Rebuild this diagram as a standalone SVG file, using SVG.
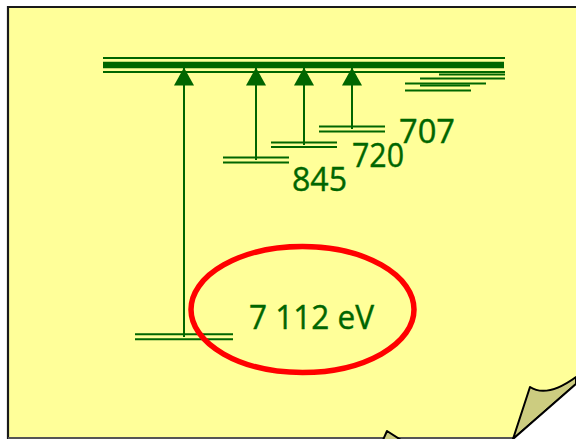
<svg xmlns="http://www.w3.org/2000/svg" width="576" height="439" viewBox="0 0 576 439">
<style>
.lv{stroke:#006600;stroke-width:2;fill:none}
.lbl{font-family:"Comic Sans MS","Open Sans","DejaVu Sans",sans-serif;font-size:32px;fill:#006600;stroke:#006600;stroke-width:0.4}
.arr{stroke:#006600;stroke-width:2;fill:none;marker-end:url(#ah)}
.curl{fill:#cccc80;stroke:#000;stroke-width:2;stroke-linejoin:round}
</style>
<defs>
<marker id="ah" markerUnits="userSpaceOnUse" markerWidth="20" markerHeight="20" refX="18" refY="10" orient="auto" viewBox="0 0 18 20">
<path d="M0,0 L18,10 L0,20 Z" fill="#006600"/>
</marker>
</defs>
<rect width="576" height="439" fill="#ffffff"/>
<g id="paper">
<path d="M8,7 H576 V377 L576,384 L513,439 H8 Z" fill="#ffff99"/>
<path d="M8,439 V7 H576" fill="none" stroke="#1a1a1a" stroke-width="2.2"/>
<path d="M8,438 H513" fill="none" stroke="#555" stroke-width="2"/>
<path class="curl" d="M530,387 Q547,398 576,377 L576,384 L513,439 Z"/>
<path d="M576,384 L513,439 L576,439 Z" fill="#ffffff"/>
<path d="M576,384 L513,439" stroke="#000" stroke-width="2" fill="none"/>
<path class="curl" d="M383,440 L387,431 L401,440 Z"/>
</g>
<g id="continuum">
<line class="lv" x1="103" y1="58" x2="505" y2="58"/>
<line x1="103" y1="65" x2="504" y2="65" stroke="#006600" stroke-width="6.5"/>
<line class="lv" x1="103" y1="72" x2="505" y2="72"/>
<line class="lv" x1="439" y1="74.5" x2="505" y2="74.5"/>
<line class="lv" x1="420" y1="78.5" x2="505" y2="78.5"/>
<line class="lv" x1="405" y1="83.5" x2="486" y2="83.5"/>
<line class="lv" x1="420" y1="85.5" x2="470" y2="85.5"/>
<line class="lv" x1="405" y1="90.5" x2="471" y2="90.5"/>
</g>
<g id="level-707">
<line class="lv" x1="319" y1="126.5" x2="385" y2="126.5"/>
<line class="lv" x1="319" y1="131.5" x2="385" y2="131.5"/>
<text class="lbl" x="399" y="143" textLength="56" lengthAdjust="spacingAndGlyphs">707</text>
</g>
<g id="level-720">
<line class="lv" x1="271" y1="142.5" x2="337" y2="142.5"/>
<line class="lv" x1="271" y1="147" x2="337" y2="147"/>
<text class="lbl" x="352" y="167" textLength="52" lengthAdjust="spacingAndGlyphs">720</text>
</g>
<g id="level-845">
<line class="lv" x1="223" y1="157.5" x2="289" y2="157.5"/>
<line class="lv" x1="223" y1="162.5" x2="289" y2="162.5"/>
<text class="lbl" x="292" y="191" textLength="55" lengthAdjust="spacingAndGlyphs">845</text>
</g>
<g id="level-7112">
<line class="lv" x1="135" y1="334.3" x2="233" y2="334.3"/>
<line class="lv" x1="135" y1="339.3" x2="233" y2="339.3"/>
<text class="lbl" x="249" y="329" textLength="125" lengthAdjust="spacingAndGlyphs">7 112 eV</text>
<ellipse cx="302.5" cy="309.5" rx="111.5" ry="63" fill="none" stroke="#ff0000" stroke-width="5.5"/>
</g>
<g id="connectors">
<line class="arr" x1="184" y1="337" x2="184" y2="67.5"/>
<line class="arr" x1="256" y1="160" x2="256" y2="67.5"/>
<line class="arr" x1="304" y1="145" x2="304" y2="67.5"/>
<line class="arr" x1="352" y1="129" x2="352" y2="67.5"/>
</g>
</svg>
